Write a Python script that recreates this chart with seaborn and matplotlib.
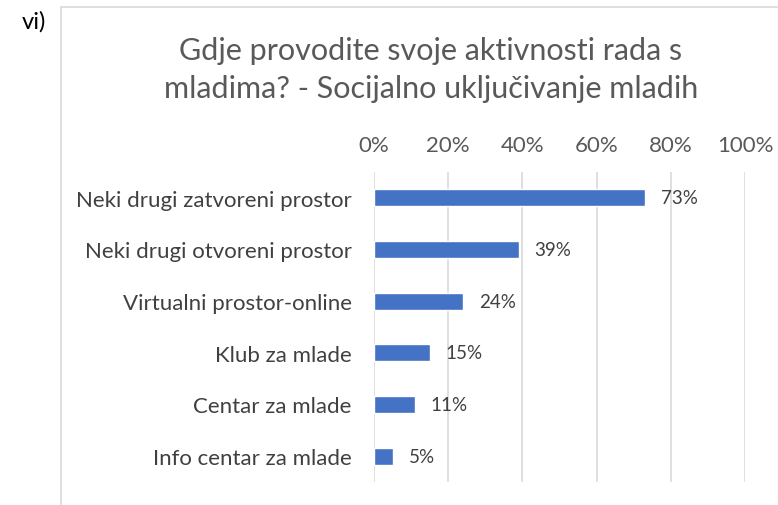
import matplotlib
matplotlib.use("Agg")
import matplotlib.pyplot as plt
import matplotlib.patches as mpatches
import pandas as pd
import seaborn as sns

# ── data ────────────────────────────────────────────────────────────────────
categories = [
    "Neki drugi zatvoreni prostor",
    "Neki drugi otvoreni prostor",
    "Virtualni prostor-online",
    "Klub za mlade",
    "Centar za mlade",
    "Info centar za mlade",
]
shares = [0.73, 0.39, 0.24, 0.15, 0.11, 0.05]
x_ticks = [0, 0.2, 0.4, 0.6, 0.8, 1.0]
x_tick_labels = ["0%", "20%", "40%", "60%", "80%", "100%"]
title = "Gdje provodite svoje aktivnosti rada s\nmladima? - Socijalno uključivanje mladih"

df = pd.DataFrame({"kategorija": categories, "udio": shares})

sns.set_style("white")
plt.rcParams["font.family"] = ["Lato", "DejaVu Sans"]

fig = plt.figure(figsize=(7.78, 5.06), dpi=100)
ax = fig.add_axes([0.4807, 0.0455, 0.4769, 0.6126])

sns.barplot(data=df, x="udio", y="kategorija", color="#4472C4",
            saturation=1, width=0.33, ax=ax, zorder=3)

ax.set_xlim(0, 1.0)
ax.set_ylim(5.5, -0.5)
ax.set_xticks(x_ticks)
ax.set_xticklabels(x_tick_labels)
ax.xaxis.tick_top()
ax.tick_params(axis="x", length=0, pad=12, labelsize=16, labelcolor="#595959")
ax.tick_params(axis="y", length=0, pad=16, labelsize=16, labelcolor="#404040")
ax.set_xlabel("")
ax.set_ylabel("")
ax.grid(axis="x", color="#D9D9D9", linewidth=1.2, zorder=0)
for s in ax.spines.values():
    s.set_visible(False)

for i, v in enumerate(shares):
    ax.text(v + 0.043, i, f"{v:.0%}", va="center", ha="left",
            fontsize=13.5, color="#404040")

# chart border and title
fig.patches.append(mpatches.Rectangle((61 / 778, -0.1), 1.0, 1 - 8 / 506 + 0.1,
                                      transform=fig.transFigure, fill=False,
                                      edgecolor="#D9D9D9", linewidth=1.2))
fig.text(431 / 778, 1 - 70 / 506, title, ha="center", va="center",
         fontsize=22, color="#595959", linespacing=1.45)
fig.text(22 / 778, 1 - 22 / 506, "vi)", ha="left", va="center",
         fontsize=17, color="black")

fig.savefig("out.png", dpi=100)
